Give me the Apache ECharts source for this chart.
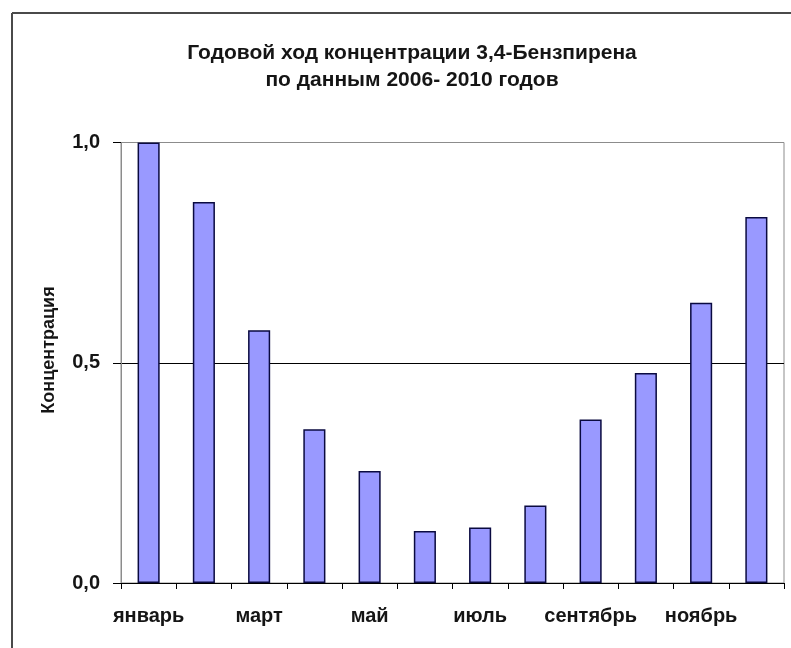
<!DOCTYPE html>
<html>
<head>
<meta charset="utf-8">
<script src="https://cdn.jsdelivr.net/npm/echarts@6/dist/echarts.min.js"></script>
<style>
  html, body { margin: 0; padding: 0; background: #ffffff; }
  #chart { width: 791px; height: 648px; }
</style>
</head>
<body>
<div id="chart"></div>
<script>
// Monthly categories (labels shown for every other month)
const months = ['январь', 'февраль', 'март', 'апрель', 'май', 'июнь',
                'июль', 'август', 'сентябрь', 'октябрь', 'ноябрь', 'декабрь'];
// Relative concentration of 3,4-benzpyrene, averaged 2006–2010
const concentration = [1.0, 0.865, 0.574, 0.349, 0.254, 0.118,
                       0.126, 0.176, 0.371, 0.477, 0.636, 0.831];
// Value axis ticks
const yTicks = [0, 0.5, 1.0];

const titleLines = ['Годовой ход концентрации 3,4-Бензпирена', 'по данным 2006- 2010 годов'];
const yName = 'Концентрация';

const FONT = '"Liberation Sans", Arial, sans-serif';
const TEXT_COLOR = '#151515';

const chart = echarts.init(document.getElementById('chart'), null, { renderer: 'canvas' });

chart.setOption({
  backgroundColor: '#ffffff',
  animation: false,
  title: {
    text: titleLines.join('\n'),
    left: 407,
    top: 35,
    textAlign: 'center',
    textStyle: {
      fontFamily: FONT,
      fontSize: 21,
      fontWeight: 'bold',
      color: TEXT_COLOR,
      lineHeight: 27
    }
  },
  graphic: [
    // outer frame (top and left edges)
    { type: 'line', shape: { x1: 12, y1: 13, x2: 791, y2: 13 },
      style: { stroke: '#4a4a4a', lineWidth: 2 }, silent: true },
    { type: 'line', shape: { x1: 12, y1: 13, x2: 12, y2: 648 },
      style: { stroke: '#4a4a4a', lineWidth: 2 }, silent: true },
    // value axis title
    { type: 'text', x: 49, y: 350, rotation: Math.PI / 2, silent: true,
      style: { text: yName, fontFamily: FONT, fontSize: 18, fontWeight: 'bold',
               fill: TEXT_COLOR, align: 'center', verticalAlign: 'middle' } }
  ],
  grid: {
    left: 121,
    right: 7,
    top: 142.5,
    bottom: 65,
    show: true,
    borderColor: '#8c8c8c',
    borderWidth: 1,
    backgroundColor: '#ffffff'
  },
  xAxis: {
    type: 'category',
    data: months,
    boundaryGap: true,
    axisLine: { show: true, lineStyle: { color: '#000000', width: 1.2 } },
    axisTick: { show: true, inside: false, length: 6, alignWithLabel: false, interval: 0,
                lineStyle: { color: '#000000' } },
    axisLabel: {
      interval: 1,
      margin: 23,
      fontFamily: FONT,
      fontSize: 20,
      fontWeight: 'bold',
      color: TEXT_COLOR
    },
    splitLine: { show: false }
  },
  yAxis: {
    type: 'value',
    min: yTicks[0],
    max: yTicks[yTicks.length - 1],
    interval: 0.5,
    axisLine: { show: true, lineStyle: { color: '#8c8c8c' } },
    axisTick: { show: true, inside: false, length: 8, lineStyle: { color: '#000000' } },
    axisLabel: {
      margin: 21,
      fontFamily: FONT,
      fontSize: 20,
      fontWeight: 'bold',
      color: TEXT_COLOR,
      formatter: v => v.toFixed(1).replace('.', ',')
    },
    splitLine: {
      show: true,
      lineStyle: { color: ['#000000', '#000000', '#8c8c8c'], width: 1.2 }
    }
  },
  series: [{
    type: 'bar',
    data: concentration,
    barWidth: '40%',
    itemStyle: {
      color: '#9999ff',
      borderColor: '#0a0a40',
      borderWidth: 1.5
    }
  }]
});
</script>
</body>
</html>
